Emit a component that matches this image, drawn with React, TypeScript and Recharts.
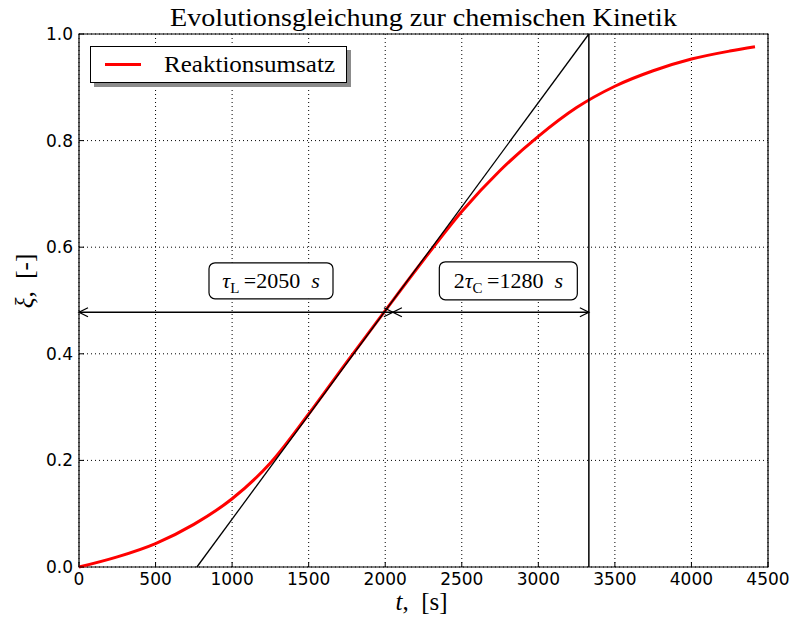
import {
  ComposedChart,
  Line,
  XAxis,
  YAxis,
  CartesianGrid,
  Legend,
  ReferenceLine,
  ReferenceArea,
  ReferenceDot,
  Label,
  Customized,
} from 'recharts';

// reaction time t [s] and conversion xi [-]
const timeSeconds = [0, 250, 500, 750, 1000, 1250, 1500, 1750, 2000, 2250, 2500, 2750, 3000, 3250, 3500, 3750, 4000, 4250, 4415];
const conversion = [0, 0.019, 0.044, 0.08, 0.128, 0.195, 0.287, 0.385, 0.481, 0.576, 0.667, 0.744, 0.808, 0.862, 0.902, 0.931, 0.953, 0.968, 0.976];

const xTicks = [0, 500, 1000, 1500, 2000, 2500, 3000, 3500, 4000, 4500];
const yTicks = [0, 0.2, 0.4, 0.6, 0.8, 1.0];

// characteristic times from the annotation
const tauL = 2050;
const twoTauC = 1280;
const tangentStart = 770; // tangent meets xi = 0
const tangentEnd = tauL + twoTauC; // 3330 s, tangent meets xi = 1
const arrowLevel = 0.478;
const boxLevel = 0.537;
const boxLeftT = 1254;
const boxRightT = 2804;

const data = timeSeconds.map((t, i) => ({ t, xi: conversion[i] }));

const SERIF = '"Liberation Serif", "Times New Roman", serif';
const SANS = '"DejaVu Sans", sans-serif';

function DoubleArrow(p: any) {
  const { x1, y1, x2, y2 } = p;
  const l = Math.min(x1, x2);
  const r = Math.max(x1, x2);
  const d = 9;
  const w = 4.5;
  return (
    <g>
      <line x1={l} y1={y1} x2={r} y2={y2} stroke="#000" strokeWidth={1.3} />
      <path d={`M${l + d},${y1 - w}L${l},${y1}L${l + d},${y1 + w}`} fill="none" stroke="#000" strokeWidth={1.3} />
      <path d={`M${r - d},${y2 - w}L${r},${y2}L${r - d},${y2 + w}`} fill="none" stroke="#000" strokeWidth={1.3} />
    </g>
  );
}

function AnnotationBox({ cx, cy, width, height, children }: any) {
  return (
    <g>
      <rect x={cx - width / 2} y={cy - height / 2} width={width} height={height} rx={6} ry={6} fill="#fff" stroke="#000" strokeWidth={1.2} />
      <text x={cx} y={cy + 7} textAnchor="middle" fontFamily={SERIF} fontSize={22} fill="#000">
        {children}
      </text>
    </g>
  );
}

function LegendBox(props: any) {
  const item = props.payload?.[0];
  return (
    <div style={{ width: 257, height: 37, border: '1px solid #000', background: '#fff', boxShadow: '4px 4px 0 #8c8c8c', boxSizing: 'border-box' }}>
      <svg width={255} height={35} style={{ display: 'block' }}>
        <line x1={14} x2={50} y1={17.5} y2={17.5} stroke={item?.color ?? '#ff0000'} strokeWidth={3} />
        <text x={73} y={25} fontFamily={SERIF} fontSize={24} fill="#000" textLength={171} lengthAdjust="spacingAndGlyphs">
          {item?.value ?? 'Reaktionsumsatz'}
        </text>
      </svg>
    </div>
  );
}

const tickStyle = { fill: '#000', fontSize: 17, fontFamily: SANS };

export default function App() {
  return (
    <div style={{ position: 'absolute', left: 0, top: 0, width: 793, height: 624, background: '#fff' }}>
      <ComposedChart width={793} height={624} data={data} margin={{ top: 34, right: 25, bottom: 27, left: 0 }}>
        <CartesianGrid stroke="#000" strokeDasharray="1 3" strokeWidth={1} />
        <XAxis
          type="number"
          dataKey="t"
          domain={[0, 4500]}
          ticks={xTicks}
          interval={0}
          height={30}
          axisLine={false}
          tickLine={{ stroke: '#000' }}
          tickSize={-5}
          tickMargin={11}
          tick={tickStyle}
        >
          <Label
            content={(props: any) => {
              const vb = props.viewBox;
              return (
                <text x={vb.x + vb.width / 2 - 2} y={vb.y + 43} textAnchor="middle" fontFamily={SERIF} fontSize={25} fill="#000">
                  <tspan fontStyle="italic">t</tspan>,{'\u2002'}[s]
                </text>
              );
            }}
          />
        </XAxis>
        <XAxis
          xAxisId="top"
          orientation="top"
          type="number"
          domain={[0, 4500]}
          ticks={xTicks}
          interval={0}
          height={0}
          axisLine={false}
          tickLine={{ stroke: '#000' }}
          tickSize={-5}
          tick={false}
        />
        <YAxis
          type="number"
          domain={[0, 1]}
          ticks={yTicks}
          interval={0}
          width={79}
          axisLine={false}
          tickLine={{ stroke: '#000' }}
          tickSize={-5}
          tickMargin={11}
          tickFormatter={(v: number) => v.toFixed(1)}
          tick={tickStyle}
        >
          <Label
            content={() => (
              <text x={24} y={281} transform="rotate(-90 24 281)" textAnchor="middle" dominantBaseline="central" fontFamily={SERIF} fontSize={25} fill="#000">
                <tspan fontStyle="italic">ξ</tspan>,{'\u2002'}[-]
              </text>
            )}
          />
        </YAxis>
        <YAxis
          yAxisId="right"
          orientation="right"
          type="number"
          domain={[0, 1]}
          ticks={yTicks}
          interval={0}
          width={0}
          axisLine={false}
          tickLine={{ stroke: '#000' }}
          tickSize={-5}
          tick={false}
        />
        <ReferenceArea x1={0} x2={4500} y1={0} y2={1} fill="none" stroke="#000" strokeWidth={1.2} />
        <Line
          type="monotone"
          dataKey="xi"
          name="Reaktionsumsatz"
          stroke="#ff0000"
          strokeWidth={3}
          dot={false}
          isAnimationActive={false}
        />
        <ReferenceLine
          segment={[{ x: tangentStart, y: 0 }, { x: tangentEnd, y: 1 }]}
          stroke="#000"
          strokeWidth={1.3}
        />
        <ReferenceLine x={tangentEnd} stroke="#000" strokeWidth={1.5} />
        <ReferenceLine segment={[{ x: 0, y: arrowLevel }, { x: tauL, y: arrowLevel }]} shape={DoubleArrow} />
        <ReferenceLine segment={[{ x: tauL, y: arrowLevel }, { x: tangentEnd, y: arrowLevel }]} shape={DoubleArrow} />
        <ReferenceDot
          x={boxLeftT}
          y={boxLevel}
          shape={(p: any) => (
            <AnnotationBox cx={p.cx} cy={p.cy} width={124} height={36}>
              <tspan fontStyle="italic">τ</tspan>
              <tspan dy={5} fontSize={15}>L</tspan>
              <tspan dy={-5}>{'\u2009'}={tauL}{'\u2002'}</tspan>
              <tspan fontStyle="italic">s</tspan>
            </AnnotationBox>
          )}
        />
        <ReferenceDot
          x={boxRightT}
          y={boxLevel}
          shape={(p: any) => (
            <AnnotationBox cx={p.cx} cy={p.cy} width={138} height={38}>
              <tspan>2</tspan>
              <tspan fontStyle="italic">τ</tspan>
              <tspan dy={5} fontSize={15}>C</tspan>
              <tspan dy={-5}>{'\u2009'}={twoTauC}{'\u2002'}</tspan>
              <tspan fontStyle="italic">s</tspan>
            </AnnotationBox>
          )}
        />
        <Legend
          layout="vertical"
          align="center"
          verticalAlign="middle"
          content={LegendBox}
          wrapperStyle={{ left: 90, top: 46, width: 257, height: 37 }}
        />
        <Customized
          component={() => (
            <text x={423.5} y={26} textAnchor="middle" fontFamily={SERIF} fontSize={26} fill="#000" textLength={507} lengthAdjust="spacingAndGlyphs">
              Evolutionsgleichung zur chemischen Kinetik
            </text>
          )}
        />
      </ComposedChart>
    </div>
  );
}
